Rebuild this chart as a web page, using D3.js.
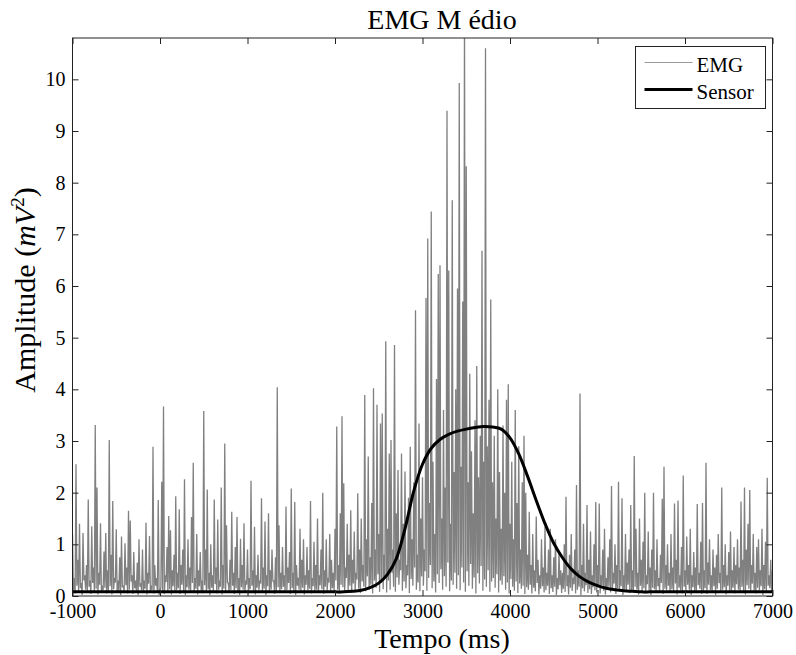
<!DOCTYPE html>
<html lang="pt">
<head>
<meta charset="UTF-8">
<title>EMG Médio</title>
<script src="https://cdn.jsdelivr.net/npm/d3@7"></script>
<style>
  body { margin: 0; background: #fff; }
  svg { display: block; }
  text { font-family: "Liberation Serif", "DejaVu Serif", serif; fill: #000; }
</style>
</head>
<body>
<div id="chart"></div>
<script>
// ---- dados ----
// EMG: um pico a cada 20 ms a partir de -1000 ms, e um vale 10 ms depois de cada pico
const tStart = -1000;
const emgStep = 20;
const emgPeaks = [
  1.20, 0.35, 2.55, 0.70, 1.40, 0.25, 1.22, 0.40, 0.60, 1.87, 0.30, 1.35, 0.55, 3.31, 2.10, 0.45, 1.41, 0.20, 0.86, 1.22,
  0.50, 3.02, 0.80, 1.84, 0.35, 1.29, 0.30, 0.75, 1.15, 0.20, 1.02, 0.55, 1.65, 1.46, 0.40, 0.85, 0.30, 0.65, 1.10, 0.25,
  0.90, 0.30, 1.42, 0.45, 1.16, 0.20, 2.89, 0.60, 0.35, 1.86, 0.10, 2.21, 3.67, 0.40, 0.95, 1.55, 1.27, 0.50, 0.80, 1.93,
  0.45, 1.68, 0.60, 0.90, 2.26, 0.40, 1.10, 0.55, 1.53, 2.58, 0.35, 1.20, 0.50, 0.85, 0.30, 3.58, 0.90, 2.06, 0.45, 1.00,
  0.40, 1.87, 0.55, 1.48, 0.30, 2.10, 0.60, 2.95, 1.37, 0.25, 0.70, 1.63, 0.45, 0.95, 1.53, 0.35, 1.11, 0.60, 1.41, 0.30,
  0.90, 0.35, 2.23, 0.50, 1.34, 0.40, 0.80, 0.30, 1.89, 0.55, 1.44, 0.40, 1.60, 0.50, 0.90, 0.30, 0.75, 4.04, 1.37, 0.45,
  0.95, 0.40, 1.73, 0.55, 0.85, 2.08, 0.45, 1.82, 0.60, 0.35, 1.30, 0.70, 1.10, 0.40, 0.95, 0.50, 1.84, 0.35, 1.05, 0.60,
  1.50, 0.40, 0.90, 2.00, 0.50, 1.10, 0.35, 1.20, 0.70, 0.45, 1.30, 3.28, 0.60, 1.60, 3.48, 2.18, 0.55, 1.40, 0.80, 1.66,
  0.70, 1.25, 0.45, 1.99, 0.90, 1.50, 0.60, 3.89, 1.10, 2.70, 0.75, 1.80, 4.02, 0.90, 3.70, 1.20, 3.34, 3.53, 0.80, 4.93,
  1.30, 2.76, 3.02, 0.90, 4.86, 1.60, 2.44, 0.70, 2.76, 1.40, 2.41, 0.60, 1.90, 2.89, 1.10, 2.20, 5.53, 0.80, 3.34, 1.50,
  2.30, 0.90, 5.77, 6.92, 1.80, 7.44, 2.60, 1.20, 4.20, 6.23, 6.40, 1.50, 3.60, 2.10, 9.39, 6.30, 1.40, 7.66, 2.40, 4.00,
  5.95, 9.93, 2.50, 5.70, 11.50, 8.32, 2.20, 4.30, 2.80, 1.60, 3.40, 4.45, 2.30, 3.10, 6.68, 2.60, 10.60, 2.90, 3.80, 5.74,
  2.20, 3.10, 1.50, 4.00, 2.40, 1.30, 3.30, 2.00, 3.80, 4.10, 1.40, 2.60, 1.10, 3.60, 1.80, 2.90, 0.90, 2.20, 3.10, 2.00,
  0.80, 1.63, 0.60, 1.20, 0.50, 1.54, 0.70, 0.40, 1.10, 0.55, 1.34, 0.45, 0.90, 1.30, 0.40, 0.75, 1.10, 0.35, 0.85, 0.50,
  0.45, 1.00, 1.92, 0.40, 0.80, 1.20, 0.35, 0.90, 2.15, 0.50, 3.92, 0.60, 1.40, 0.45, 1.76, 0.70, 1.25, 0.40, 1.00, 1.82,
  0.60, 1.79, 0.40, 0.90, 1.30, 0.35, 0.75, 1.10, 2.13, 0.45, 1.00, 0.60, 2.21, 0.50, 1.89, 0.40, 1.20, 0.65, 0.90, 1.76,
  0.50, 2.71, 1.30, 0.45, 1.50, 0.70, 1.05, 2.00, 0.40, 1.25, 0.55, 0.90, 2.00, 0.50, 1.10, 0.35, 0.80, 1.88, 2.50, 0.60,
  1.00, 0.45, 1.20, 0.55, 1.79, 0.70, 1.85, 0.40, 0.95, 2.33, 0.50, 1.15, 0.60, 1.30, 0.40, 0.85, 0.55, 1.78, 0.45, 1.05,
  1.80, 0.50, 2.58, 0.65, 1.10, 0.40, 0.90, 0.55, 0.80, 1.20, 0.45, 2.10, 0.60, 1.00, 0.40, 0.85, 1.25, 0.50, 0.95, 0.60,
  1.10, 0.55, 1.83, 0.70, 2.10, 0.90, 1.40, 2.05, 0.60, 1.20, 0.45, 0.95, 1.10, 0.50, 1.30, 0.60, 1.05, 2.29, 0.40, 0.70,
  0.50
];
const emgTroughs = [
  0.10, 0.05, 0.20, 0.08, 0.15, 0.02, 0.30, 0.12, 0.06, 0.18, 0.04, 0.25, 0.09, 0.14, 0.03, 0.22, 0.07, 0.11, 0.16, 0.05,
  0.08, 0.19, 0.03, 0.13, 0.26, 0.06, 0.10, 0.02, 0.17, 0.09, 0.21, 0.05, 0.12, 0.28, 0.04, 0.15, 0.08, 0.02, 0.18, 0.11,
  0.06, 0.14, 0.03, 0.24, 0.09, 0.12, 0.05, 0.20, 0.07, 0.02, 0.16, 0.10, 0.04, 0.27, 0.08, 0.13, 0.03, 0.19, 0.06, 0.11,
  0.15, 0.04, 0.22, 0.09, 0.02, 0.17, 0.12, 0.06, 0.25, 0.08, 0.14, 0.03, 0.19, 0.10, 0.05, 0.21, 0.07, 0.13, 0.02, 0.16,
  0.09, 0.23, 0.05, 0.12, 0.18, 0.03, 0.14, 0.08, 0.26, 0.06, 0.11, 0.20, 0.04, 0.15, 0.09, 0.02, 0.17, 0.12, 0.07, 0.22,
  0.05, 0.13, 0.20, 0.08, 0.03, 0.16, 0.11, 0.24, 0.06, 0.14, 0.02, 0.19, 0.09, 0.12, 0.28, 0.04, 0.10, 0.17, 0.07, 0.13,
  0.18, 0.06, 0.11, 0.25, 0.04, 0.15, 0.09, 0.02, 0.20, 0.12, 0.07, 0.16, 0.03, 0.22, 0.10, 0.14, 0.05, 0.19, 0.08, 0.12,
  0.07, 0.21, 0.13, 0.04, 0.18, 0.10, 0.26, 0.06, 0.15, 0.09, 0.30, 0.12, 0.05, 0.22, 0.17, 0.08, 0.35, 0.11, 0.20, 0.06,
  0.24, 0.10, 0.32, 0.14, 0.06, 0.28, 0.18, 0.09, 0.38, 0.12, 0.22, 0.05, 0.30, 0.16, 0.42, 0.08, 0.25, 0.13, 0.35, 0.07,
  0.30, 0.12, 0.45, 0.18, 0.08, 0.36, 0.22, 0.50, 0.10, 0.28, 0.15, 0.40, 0.06, 0.33, 0.20, 0.55, 0.12, 0.26, 0.09, 0.38,
  0.20, 0.48, 0.10, 0.35, 0.60, 0.15, 0.28, 0.07, 0.42, 0.25, 0.52, 0.12, 0.38, 0.18, 0.65, 0.09, 0.30, 0.22, 0.45, 0.14,
  0.40, 0.11, 0.55, 0.26, 0.08, 0.48, 0.20, 0.62, 0.14, 0.36, 0.05, 0.44, 0.24, 0.58, 0.10, 0.32, 0.18, 0.50, 0.08, 0.28,
  0.35, 0.16, 0.42, 0.07, 0.30, 0.22, 0.38, 0.12, 0.26, 0.05, 0.33, 0.18, 0.10, 0.28, 0.06, 0.24, 0.14, 0.20, 0.04, 0.17,
  0.12, 0.22, 0.05, 0.16, 0.09, 0.25, 0.03, 0.14, 0.19, 0.07, 0.11, 0.20, 0.04, 0.15, 0.08, 0.18, 0.02, 0.13, 0.21, 0.06,
  0.14, 0.08, 0.19, 0.03, 0.16, 0.10, 0.23, 0.05, 0.12, 0.18, 0.02, 0.15, 0.09, 0.21, 0.06, 0.13, 0.04, 0.17, 0.11, 0.07,
  0.16, 0.05, 0.21, 0.10, 0.03, 0.14, 0.18, 0.07, 0.12, 0.24, 0.04, 0.15, 0.09, 0.19, 0.02, 0.13, 0.08, 0.22, 0.06, 0.11,
  0.07, 0.18, 0.12, 0.03, 0.20, 0.09, 0.15, 0.05, 0.23, 0.10, 0.02, 0.16, 0.13, 0.06, 0.19, 0.08, 0.25, 0.04, 0.14, 0.11,
  0.20, 0.06, 0.13, 0.09, 0.24, 0.03, 0.16, 0.11, 0.05, 0.18, 0.08, 0.22, 0.12, 0.02, 0.17, 0.10, 0.06, 0.21, 0.14, 0.04,
  0.09, 0.15, 0.04, 0.22, 0.11, 0.07, 0.19, 0.02, 0.14, 0.25, 0.06, 0.12, 0.17, 0.03, 0.20, 0.10, 0.08, 0.16, 0.05, 0.23,
  0.12, 0.06, 0.18, 0.09, 0.03, 0.21, 0.14, 0.07, 0.24, 0.10, 0.05, 0.16, 0.11, 0.19, 0.02, 0.13, 0.08, 0.20, 0.15, 0.06
];
// Sensor: um valor a cada 100 ms, de -1000 a 7000 ms
const sensorStep = 100;
const sensorAmp = [
  0.08, 0.08, 0.08, 0.08, 0.08, 0.08, 0.08, 0.08, 0.08, 0.08,
  0.08, 0.08, 0.08, 0.08, 0.08, 0.08, 0.08, 0.08, 0.08, 0.08,
  0.08, 0.08, 0.08, 0.08, 0.08, 0.08, 0.08, 0.08, 0.08, 0.08,
  0.08, 0.08, 0.09, 0.11, 0.16, 0.25, 0.42, 0.72, 1.30, 2.03,
  2.55, 2.86, 3.03, 3.13, 3.19, 3.23, 3.26, 3.28, 3.27, 3.23,
  3.06, 2.75, 2.32, 1.85, 1.40, 1.02, 0.74, 0.52, 0.37, 0.27,
  0.20, 0.15, 0.12, 0.10, 0.09, 0.08, 0.08, 0.08, 0.08, 0.08,
  0.08, 0.08, 0.08, 0.08, 0.08, 0.08, 0.08, 0.08, 0.08, 0.08,
  0.08
];
const xTicks = [-1000, 0, 1000, 2000, 3000, 4000, 5000, 6000, 7000];
const yTicks = [0, 1, 2, 3, 4, 5, 6, 7, 8, 9, 10];
const xDomain = [-1000, 7000];
const yDomain = [0, 10.8];

// ---- layout ----
const W = 796, H = 655;
const margin = { top: 38, right: 23.5, bottom: 59, left: 72.5 };
const iw = W - margin.left - margin.right;
const ih = H - margin.top - margin.bottom;

const emgColor = '#808080';
const tickLen = 6;
const serif = '"Liberation Serif", "DejaVu Serif", serif';

// monta as séries
const emgData = [];
emgPeaks.forEach((v, i) => {
  emgData.push({ t: tStart + i * emgStep, v });
  if (i < emgTroughs.length) emgData.push({ t: tStart + i * emgStep + emgStep / 2, v: emgTroughs[i] });
});
const sensorData = sensorAmp.map((v, i) => ({ t: tStart + i * sensorStep, v }));

const x = d3.scaleLinear().domain(xDomain).range([0, iw]);
const y = d3.scaleLinear().domain(yDomain).range([ih, 0]);

const svg = d3.select('#chart').append('svg')
  .attr('width', W)
  .attr('height', H);

svg.append('defs').append('clipPath')
  .attr('id', 'plot-clip')
  .append('rect')
  .attr('width', iw)
  .attr('height', ih);

const g = svg.append('g')
  .attr('transform', `translate(${margin.left},${margin.top})`);

const plot = g.append('g').attr('clip-path', 'url(#plot-clip)');

const line = d3.line()
  .x(d => x(d.t))
  .y(d => y(d.v));

plot.append('path')
  .datum(emgData)
  .attr('fill', 'none')
  .attr('stroke', emgColor)
  .attr('stroke-width', 1.3)
  .attr('stroke-linejoin', 'miter')
  .attr('stroke-miterlimit', 2)
  .attr('d', line);

plot.append('path')
  .datum(sensorData)
  .attr('fill', 'none')
  .attr('stroke', '#000')
  .attr('stroke-width', 3)
  .attr('stroke-linejoin', 'round')
  .attr('d', d3.line().x(d => x(d.t)).y(d => y(d.v)).curve(d3.curveCatmullRom)(sensorData));

// eixos estilo matlab: ticks para dentro nos quatro lados
const fmt = d => String(d);
const styleAxis = sel => {
  sel.attr('font-family', serif).attr('font-size', 20);
  sel.select('.domain').remove();
  sel.selectAll('.tick line').attr('stroke', '#222');
  sel.selectAll('.tick text').attr('fill', '#000');
};

g.append('g')
  .attr('transform', `translate(0,${ih})`)
  .call(d3.axisBottom(x).tickValues(xTicks).tickFormat(fmt).tickSizeInner(-tickLen).tickSizeOuter(0).tickPadding(8))
  .call(styleAxis);

g.append('g')
  .call(d3.axisTop(x).tickValues(xTicks).tickSizeInner(-tickLen).tickSizeOuter(0).tickFormat(''))
  .call(styleAxis);

g.append('g')
  .call(d3.axisLeft(y).tickValues(yTicks).tickFormat(fmt).tickSizeInner(-tickLen).tickSizeOuter(0).tickPadding(7))
  .call(styleAxis);

g.append('g')
  .attr('transform', `translate(${iw},0)`)
  .call(d3.axisRight(y).tickValues(yTicks).tickSizeInner(-tickLen).tickSizeOuter(0).tickFormat(''))
  .call(styleAxis);

g.append('rect')
  .attr('width', iw)
  .attr('height', ih)
  .attr('fill', 'none')
  .attr('stroke', '#222')
  .attr('stroke-width', 1);

// títulos
svg.append('text')
  .attr('x', 442)
  .attr('y', 29)
  .attr('text-anchor', 'middle')
  .attr('font-family', serif)
  .attr('font-size', 28)
  .text('EMG M édio');

svg.append('text')
  .attr('x', 442)
  .attr('y', 648)
  .attr('text-anchor', 'middle')
  .attr('font-family', serif)
  .attr('font-size', 28)
  .text('Tempo (ms)');

const yLabel = svg.append('text')
  .attr('transform', 'translate(35,290) rotate(-90)')
  .attr('text-anchor', 'middle')
  .attr('font-family', serif)
  .attr('font-size', 30);
yLabel.append('tspan').text('Amplitude (');
yLabel.append('tspan').attr('font-style', 'italic').text('mV');
yLabel.append('tspan').attr('dy', -11).attr('font-size', 19).text('2');
yLabel.append('tspan').attr('dy', 11).text(')');

// legenda
const leg = svg.append('g').attr('transform', 'translate(635.5,46.5)');
leg.append('rect')
  .attr('width', 130)
  .attr('height', 62)
  .attr('fill', '#fff')
  .attr('stroke', '#222')
  .attr('stroke-width', 1);

const legItems = [
  { name: 'EMG', color: '#9a9a9a', width: 1, y: 16 },
  { name: 'Sensor', color: '#000', width: 3, y: 43 }
];
legItems.forEach(it => {
  leg.append('line')
    .attr('x1', 9).attr('x2', 57)
    .attr('y1', it.y).attr('y2', it.y)
    .attr('stroke', it.color)
    .attr('stroke-width', it.width);
  leg.append('text')
    .attr('x', 61)
    .attr('y', it.y + 9)
    .attr('font-family', serif)
    .attr('font-size', 21)
    .text(it.name);
});
</script>
</body>
</html>
